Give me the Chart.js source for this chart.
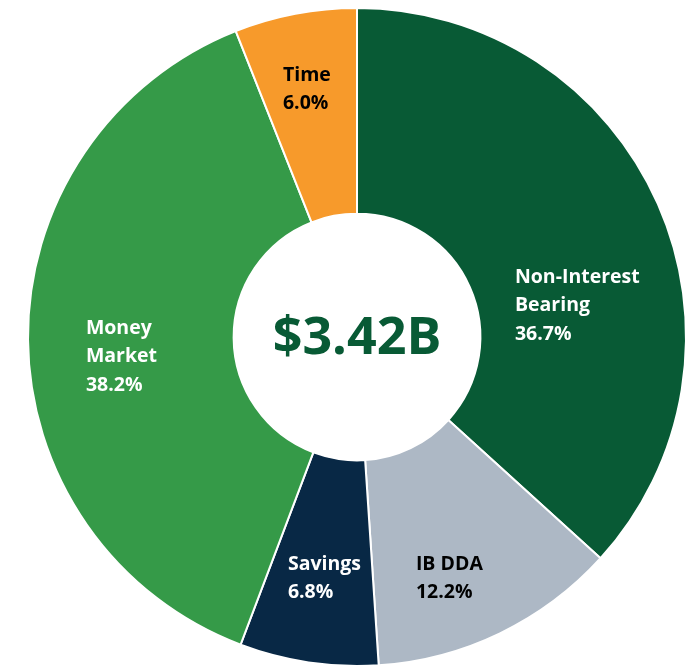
<!DOCTYPE html>
<html>
<head>
<meta charset="utf-8">
<script src="https://cdn.jsdelivr.net/npm/chart.js@4/dist/chart.umd.min.js"></script>
<style>
html,body{margin:0;padding:0;background:#fff;overflow:hidden;}
#wrap{position:relative;width:698px;height:672px;}
</style>
</head>
<body>
<div id="wrap"><canvas id="c"></canvas></div>
<script>
const categories = ["Non-Interest Bearing", "IB DDA", "Savings", "Money Market", "Time"];
const labelLines = [["Non-Interest", "Bearing", "36.7%"], ["IB DDA", "12.2%"], ["Savings", "6.8%"], ["Money", "Market", "38.2%"], ["Time", "6.0%"]];
const values = [36.7, 12.2, 6.8, 38.2, 6.0];
const totalLabel = "$3.42B";
const colors = ["#085a35", "#adb8c5", "#082845", "#359a48", "#f79a2b"];
const textColors = ["#ffffff", "#000000", "#ffffff", "#ffffff", "#000000"];
// label anchor (left edge, first-line middle) relative to chart centre, in units of outer radius
const labelAnchors = [[0.480, -0.182], [0.179, 0.690], [-0.210, 0.690], [-0.824, -0.027], [-0.225, -0.796]];

const labelPlugin = {
  id: 'sliceLabels',
  afterDatasetsDraw(chart) {
    const ctx = chart.ctx;
    const meta = chart.getDatasetMeta(0);
    const a0 = meta.data[0];
    const cx = a0.x, cy = a0.y, R = a0.outerRadius;
    ctx.save();
    ctx.font = "bold 19.5px 'Open Sans', sans-serif";
    ctx.textAlign = 'left';
    ctx.textBaseline = 'middle';
    labelLines.forEach((lines, i) => {
      const [fx, fy] = labelAnchors[i];
      ctx.fillStyle = textColors[i];
      lines.forEach((t, j) => {
        ctx.fillText(t, cx + fx * R, cy + fy * R + j * 28.5);
      });
    });
    ctx.font = "bold 52px 'Open Sans', sans-serif";
    ctx.textAlign = 'center';
    ctx.fillStyle = "#085a35";
    ctx.fillText(totalLabel, cx, cy + 2);
    ctx.restore();
  }
};

new Chart(document.getElementById('c'), {
  type: 'doughnut',
  data: {
    labels: categories,
    datasets: [{
      data: values,
      backgroundColor: colors,
      borderColor: '#ffffff',
      borderWidth: 2
    }]
  },
  options: {
    responsive: true,
    maintainAspectRatio: false,
    animation: false,
    cutout: '37.5%',
    layout: { padding: { left: 27, right: 11, top: 7, bottom: 5 } },
    plugins: { legend: { display: false }, tooltip: { enabled: false } }
  },
  plugins: [labelPlugin]
});
</script>
</body>
</html>
